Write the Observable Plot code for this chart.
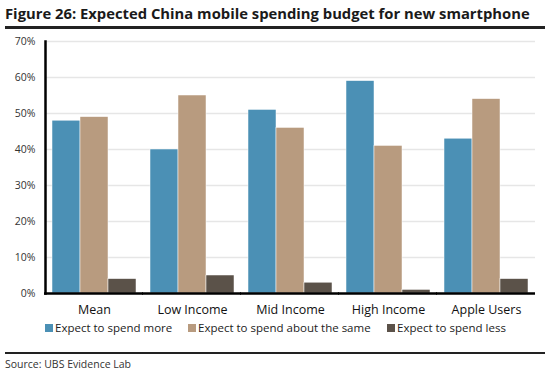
<!DOCTYPE html>
<html>
<head>
<meta charset="utf-8">
<script src="https://cdn.jsdelivr.net/npm/d3@7"></script>
<script src="https://cdn.jsdelivr.net/npm/@observablehq/plot@0.6"></script>
<style>
  html, body { margin: 0; padding: 0; background: #fff; }
  body { width: 550px; height: 377px; position: relative; overflow: hidden; font-family: "Open Sans", "Noto Sans", sans-serif; }
  #title { position: absolute; left: 5px; top: 3px; font-size: 14.8px; font-weight: bold; color: #1a1a1a; white-space: nowrap; letter-spacing: 0px; }
  .rule { position: absolute; left: 5px; width: 540px; background: #222; }
  #chart { position: absolute; left: 0; top: 30px; }
  #legend { position: absolute; left: 0; top: 320px; font-size: 11.5px; color: #222; white-space: nowrap; }
  #legend span.item { position: absolute; top: 0; }
  #legend span.sw { display: inline-block; width: 8px; height: 8px; margin-right: 2px; vertical-align: 0px; }
  #source { position: absolute; left: 5px; top: 357px; font-size: 10.5px; color: #333; }
</style>
</head>
<body>
<div id="title">Figure 26: Expected China mobile spending budget for new smartphone</div>
<div class="rule" style="top:26px;height:3px"></div>
<div id="chart"></div>
<div id="legend"></div>
<div class="rule" style="top:352px;height:2px"></div>
<div id="source">Source: UBS Evidence Lab</div>
<script>
const categories = ["Mean", "Low Income", "Mid Income", "High Income", "Apple Users"];
const seriesNames = ["Expect to spend more", "Expect to spend about the same", "Expect to spend less"];
const spendMore = [48, 40, 51, 59, 43];
const spendSame = [49, 55, 46, 41, 54];
const spendLess = [4, 5, 3, 1, 4];
const colors = ["#4b90b5", "#b89b7f", "#5b5249"];
const yTicks = [0, 10, 20, 30, 40, 50, 60, 70];

const seriesValues = [spendMore, spendSame, spendLess];
const data = [];
categories.forEach((c, i) => {
  seriesNames.forEach((s, j) => data.push({category: c, series: s, value: seriesValues[j][i]}));
});

const gap = 7;
const chart = Plot.plot({
  width: 550,
  height: 288,
  marginLeft: 45,
  marginRight: 15,
  marginTop: 11,
  marginBottom: 25,
  style: {fontFamily: "'Open Sans', 'Noto Sans', sans-serif", background: "transparent"},
  fx: {domain: categories, paddingInner: 0.14, paddingOuter: 0.07, label: null, axis: null},
  x: {domain: seriesNames, padding: 0, axis: null},
  y: {domain: [0, 70], ticks: yTicks, label: null, axis: null},
  color: {domain: seriesNames, range: colors},
  marks: [
    Plot.gridY(yTicks.slice(1), {stroke: "#e6e6e6", strokeOpacity: 1, strokeWidth: 1.5, insetLeft: -gap, insetRight: -gap}),
    Plot.barY(data, {fx: "category", x: "series", y: "value", fill: "series", stroke: "white", strokeWidth: 0.5}),
    Plot.axisY(yTicks, {tickSize: 0, tickPadding: 17, tickFormat: d => d + "%", fontSize: 10.5, fill: "#333"}),
    Plot.axisFx({tickSize: 0, tickPadding: 12, fontSize: 12.5, fill: "#111", anchor: "bottom"}),
    Plot.ruleY([0], {stroke: "#000", strokeWidth: 2.5, insetLeft: -gap - 1, insetRight: -gap}),
    Plot.frame({anchor: "left", facetAnchor: "left", stroke: "#000", strokeWidth: 2.5, insetLeft: -gap})
  ]
});
document.getElementById("chart").appendChild(chart);

const legendPos = [45, 188, 387];
const legend = document.getElementById("legend");
seriesNames.forEach((s, i) => {
  const item = document.createElement("span");
  item.className = "item";
  item.style.left = legendPos[i] + "px";
  const sw = document.createElement("span");
  sw.className = "sw";
  sw.style.background = colors[i];
  item.appendChild(sw);
  item.appendChild(document.createTextNode(s));
  legend.appendChild(item);
});
</script>
</body>
</html>
